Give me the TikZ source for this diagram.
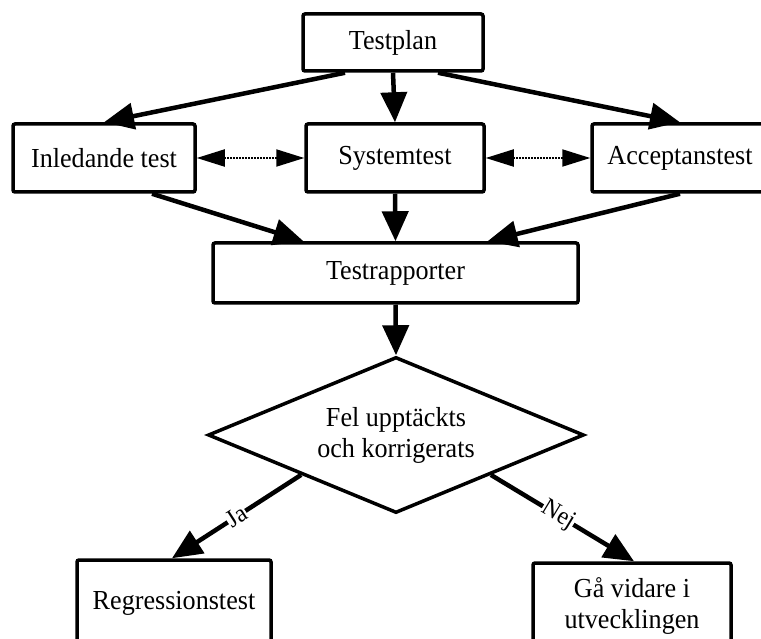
\documentclass[tikz,border=0pt]{standalone}
\usepackage{fontspec}
\setmainfont[FakeStretch=0.95]{Liberation Serif}
\usetikzlibrary{arrows.meta,shapes.geometric,calc}

\begin{document}
\begin{tikzpicture}[x=1pt,y=-1pt,
  box/.style={draw,line width=3.5pt,rectangle,rounded corners=2pt,inner sep=0pt,
    align=center,font=\fontsize{27.5}{31}\selectfont},
  flow/.style={line width=4.5pt,-{Triangle[length=30pt,width=26pt]}},
  link/.style={line width=2pt,dash pattern=on 2pt off 1pt,
    {Triangle[length=28pt,width=17pt]}-{Triangle[length=28pt,width=17pt]}},
  tag/.style={font=\fontsize{25}{28}\selectfont,fill=white,inner sep=0.5pt,sloped}]
\useasboundingbox (0,0) rectangle (761,639);

% planning and the three test levels
\node[box,minimum width=180,minimum height=57] (tp)  at (393,42.5) {Testplan};
\node[box,minimum width=182,minimum height=68] (ini) at (104,158)  {Inledande test};
\node[box,minimum width=178,minimum height=68] (sys) at (395,158)  {Systemtest};
\node[box,minimum width=176,minimum height=68] (acc) at (680,158)  {Acceptanstest};
\node[box,minimum width=365,minimum height=60] (rep) at (395.5,273) {Testrapporter};

% decision
\node[diamond,aspect=2.4,draw,line width=3.5pt,minimum width=376,minimum height=156,
  inner sep=0pt,align=center,font=\fontsize{27.5}{31}\selectfont] (q) at (396,435)
  {Fel upptäckts\\och korrigerats};

% outcomes
\node[box,minimum width=194,minimum height=86] (reg) at (174,603) {Regressionstest};
\node[box,minimum width=198,minimum height=86] (gav) at (632,606) {Gå vidare i\\utvecklingen};

% connectors
\draw[flow] ([xshift=-48]tp.south) -- (ini.north);
\draw[flow] (tp.south) -- (sys.north);
\draw[flow] ([xshift=45]tp.south) -- (acc.north);

\draw[flow] ([xshift=48]ini.south) -- ([xshift=-92]rep.north);
\draw[flow] (sys.south) -- (rep.north);
\draw[flow] (acc.south) -- ([xshift=92]rep.north);

\draw[link] (ini.east) -- (sys.west);
\draw[link] (sys.east) -- (acc.west);

\draw[flow] (rep.south) -- (q.north);
\draw[flow] (q.south west) -- node[tag,pos=0.5] {Ja} ([xshift=-2]reg.north);
\draw[flow] (q.south east) -- node[tag,pos=0.47] {Nej} ([xshift=2]gav.north);
\end{tikzpicture}
\end{document}
